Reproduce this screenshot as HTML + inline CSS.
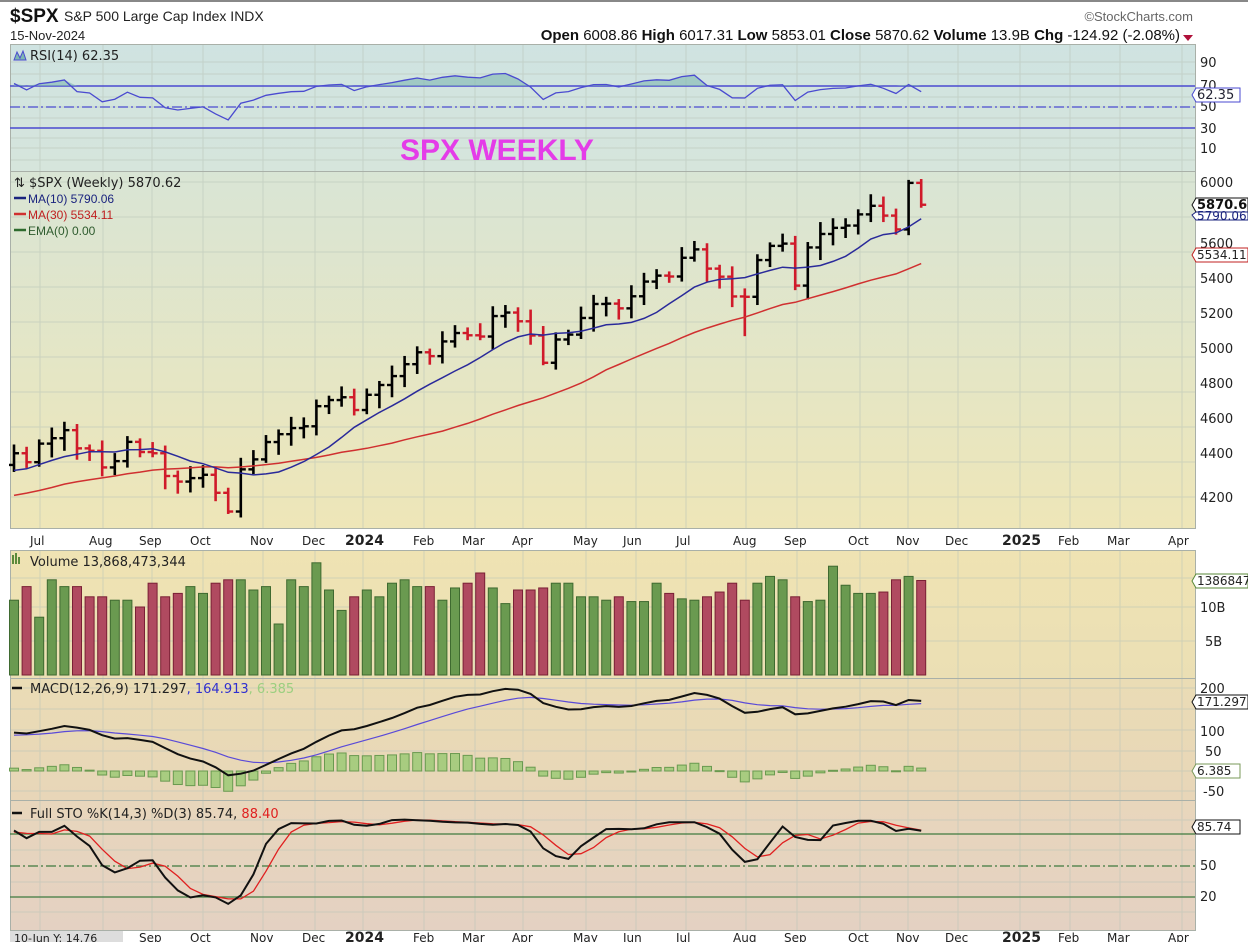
<!DOCTYPE html>
<html><head><meta charset="utf-8">
<style>
html,body{margin:0;padding:0;background:#fff;width:1248px;height:942px;overflow:hidden}
svg{display:block}
text{font-family:"DejaVu Sans","Liberation Sans",sans-serif}
.ax{font-family:"Liberation Sans",sans-serif;font-size:13px;fill:#222}
.mo{font-family:"DejaVu Sans",sans-serif;font-size:12px;fill:#222}
</style></head><body>
<svg id="s" width="1248" height="942" xmlns="http://www.w3.org/2000/svg">
<defs>
<linearGradient id="gR" x1="0" y1="0" x2="0" y2="1"><stop offset="0" stop-color="#cfe3e1"/><stop offset="1" stop-color="#d6e5dc"/></linearGradient>
<linearGradient id="gP" x1="0" y1="0" x2="0" y2="1"><stop offset="0" stop-color="#d9e5d5"/><stop offset="1" stop-color="#eee6b8"/></linearGradient>
<linearGradient id="gV" x1="0" y1="0" x2="0" y2="1"><stop offset="0" stop-color="#efe3b3"/><stop offset="1" stop-color="#ebdfb4"/></linearGradient>
<linearGradient id="gM" x1="0" y1="0" x2="0" y2="1"><stop offset="0" stop-color="#eadcb5"/><stop offset="1" stop-color="#e8d6b8"/></linearGradient>
<linearGradient id="gS" x1="0" y1="0" x2="0" y2="1"><stop offset="0" stop-color="#e8d6bc"/><stop offset="1" stop-color="#e4d1c2"/></linearGradient>
</defs>
<rect x="0" y="0" width="1248" height="942" fill="#fff"/>
<rect x="0" y="0" width="1248" height="2" fill="#888"/>
<text x="10" y="22" style="font-family:'Liberation Sans',sans-serif;font-weight:bold;font-size:19px" fill="#111">$SPX</text>
<text x="64" y="21" style="font-family:'Liberation Sans',sans-serif;font-size:14px" fill="#222">S&amp;P 500 Large Cap Index  INDX</text>
<text x="10" y="40" style="font-family:'Liberation Sans',sans-serif;font-size:13px" fill="#222">15-Nov-2024</text>
<text x="1193" y="21" text-anchor="end" style="font-family:'Liberation Sans',sans-serif;font-size:13px" fill="#666">©StockCharts.com</text>
<text x="1180" y="40" text-anchor="end" style="font-family:'Liberation Sans',sans-serif;font-size:15px" fill="#111"><tspan font-weight="bold">Open</tspan> 6008.86  <tspan font-weight="bold">High</tspan> 6017.31  <tspan font-weight="bold">Low</tspan> 5853.01  <tspan font-weight="bold">Close</tspan> 5870.62  <tspan font-weight="bold">Volume</tspan> 13.9B  <tspan font-weight="bold">Chg</tspan> -124.92 (-2.08%)</text>
<path d="M1183 35 L1193 35 L1188 41Z" fill="#b0103a"/>
<rect x="10" y="44" width="1185" height="127" fill="url(#gR)"/>
<rect x="10" y="171" width="1185" height="357" fill="url(#gP)"/>
<rect x="10" y="550" width="1185" height="128" fill="url(#gV)"/>
<rect x="10" y="678" width="1185" height="122" fill="url(#gM)"/>
<rect x="10" y="800" width="1185" height="130" fill="url(#gS)"/>
<rect x="10" y="930" width="113" height="12" fill="#ddd"/>
<g id="grid" stroke="#b8c4b8" stroke-width="1" opacity="0.55"></g>
<g stroke="#a9b0a8" stroke-width="1" fill="none">
<rect x="10.5" y="44.5" width="1185" height="484"/>
<rect x="10.5" y="550.5" width="1185" height="380"/>
<line x1="10" y1="171.5" x2="1195" y2="171.5"/>
<line x1="10" y1="678.5" x2="1195" y2="678.5"/>
<line x1="10" y1="800.5" x2="1195" y2="800.5"/>
</g>
<line x1="10" y1="86" x2="1195" y2="86" stroke="#4a4ad0" stroke-width="1.5"/>
<line x1="10" y1="107" x2="1195" y2="107" stroke="#4a4ad0" stroke-width="1.3" stroke-dasharray="10,3,2,3"/>
<line x1="10" y1="128" x2="1195" y2="128" stroke="#4a4ad0" stroke-width="1.5"/>
<line x1="10" y1="834" x2="1195" y2="834" stroke="#3f7a3f" stroke-width="1.2"/>
<line x1="10" y1="866" x2="1195" y2="866" stroke="#3f7a3f" stroke-width="1.2" stroke-dasharray="10,3,2,3"/>
<line x1="10" y1="897" x2="1195" y2="897" stroke="#3f7a3f" stroke-width="1.2"/>
<g id="series"></g>
<path d="M14 60 L17 52 L20 58 L23 51 L26 60Z" fill="#7fb8b0" stroke="#4a4ad0" stroke-width="1"/>
<text x="30" y="60" font-size="13" fill="#222">RSI(14) 62.35</text>
<text x="400" y="160" style="font-family:'Liberation Sans',sans-serif;font-weight:bold;font-size:30px" fill="#e43ce8">SPX WEEKLY</text>
<text x="14" y="187" font-size="13" fill="#222">⇅ $SPX (Weekly) 5870.62</text>
<line x1="14" y1="198" x2="26" y2="198" stroke="#1a237e" stroke-width="2.5"/><text x="28" y="203" font-size="12" fill="#1a237e" style="font-family:'Liberation Sans',sans-serif">MA(10) 5790.06</text>
<line x1="14" y1="214" x2="26" y2="214" stroke="#d03030" stroke-width="2.5"/><text x="28" y="219" font-size="12" fill="#c02020" style="font-family:'Liberation Sans',sans-serif">MA(30) 5534.11</text>
<line x1="14" y1="230" x2="26" y2="230" stroke="#2e6b2e" stroke-width="2.5"/><text x="28" y="235" font-size="12" fill="#2e5b2e" style="font-family:'Liberation Sans',sans-serif">EMA(0) 0.00</text>
<rect x="12" y="555" width="2" height="9" fill="#5a8a3a"/><rect x="15" y="553" width="2" height="11" fill="#5a8a3a"/><rect x="18" y="557" width="2" height="7" fill="#5a8a3a"/>
<text x="30" y="566" font-size="13" fill="#222">Volume 13,868,473,344</text>
<line x1="12" y1="688" x2="22" y2="688" stroke="#111" stroke-width="2.5"/>
<text x="30" y="693" font-size="13" fill="#222">MACD(12,26,9) 171.297<tspan fill="#3030d0">, 164.913</tspan><tspan fill="#9ccf80">, 6.385</tspan></text>
<line x1="12" y1="813" x2="22" y2="813" stroke="#111" stroke-width="2.5"/>
<text x="30" y="818" font-size="13" fill="#222">Full STO %K(14,3) %D(3) 85.74, <tspan fill="#e02020">88.40</tspan></text>
<g class="ax">
<text x="1200" y="67">90</text><text x="1200" y="90">70</text><text x="1200" y="111">50</text><text x="1200" y="133">30</text><text x="1200" y="153">10</text>
<text x="1200" y="187">6000</text><text x="1200" y="248">5600</text><text x="1200" y="283">5400</text><text x="1200" y="318">5200</text><text x="1200" y="353">5000</text><text x="1200" y="388">4800</text><text x="1200" y="423">4600</text><text x="1200" y="458">4400</text><text x="1200" y="502">4200</text>
<text x="1200" y="612">10B</text><text x="1205" y="646">5B</text>
<text x="1200" y="693">200</text><text x="1200" y="736">100</text><text x="1205" y="756">50</text><text x="1203" y="796">-50</text>
<text x="1200" y="870">50</text><text x="1200" y="901">20</text>
</g>
<g style="font-family:'Liberation Sans',sans-serif;font-size:12px">
<path d="M1192 95 L1196 88 L1240 88 L1240 102 L1196 102Z" fill="#fff" stroke="#4a4ad0"/><text x="1197" y="99" fill="#223" font-size="13">62.35</text>
<path d="M1192 205 L1196 198 L1248 198 L1248 212 L1196 212Z" fill="#fff" stroke="#111"/><text x="1197" y="209" fill="#111" font-weight="bold" font-size="13">5870.62</text>
<path d="M1192 215 L1196 212 L1248 212 L1248 220 L1196 220Z" fill="#fff" stroke="#1a237e"/><text x="1197" y="220" fill="#1a237e" font-size="12">5790.06</text>
<path d="M1192 255 L1196 248 L1248 248 L1248 262 L1196 262Z" fill="#fff" stroke="#c02020"/><text x="1197" y="259" fill="#222" font-size="12">5534.11</text>
<path d="M1192 581 L1196 574 L1248 574 L1248 588 L1196 588Z" fill="#fff" stroke="#5a8a3a"/><text x="1197" y="585" fill="#222" font-size="12">13868473</text>
<path d="M1192 702 L1196 695 L1248 695 L1248 709 L1196 709Z" fill="#fff" stroke="#111"/><text x="1197" y="706" fill="#222" font-size="12">171.297</text>
<path d="M1192 771 L1196 764 L1240 764 L1240 778 L1196 778Z" fill="#fff" stroke="#7a9a5a"/><text x="1197" y="775" fill="#222" font-size="12">6.385</text>
<path d="M1192 827 L1196 820 L1240 820 L1240 834 L1196 834Z" fill="#fff" stroke="#111"/><text x="1197" y="831" fill="#222" font-size="12">85.74</text>
</g>
<g class="mo">
<text x="30" y="545">Jul</text><text x="89" y="545">Aug</text><text x="139" y="545">Sep</text><text x="190" y="545">Oct</text><text x="250" y="545">Nov</text><text x="302" y="545">Dec</text><text x="345" y="545" font-weight="bold" font-size="14">2024</text><text x="413" y="545">Feb</text><text x="462" y="545">Mar</text><text x="512" y="545">Apr</text><text x="573" y="545">May</text><text x="623" y="545">Jun</text><text x="676" y="545">Jul</text><text x="733" y="545">Aug</text><text x="784" y="545">Sep</text><text x="848" y="545">Oct</text><text x="896" y="545">Nov</text><text x="945" y="545">Dec</text><text x="1002" y="545" font-weight="bold" font-size="14">2025</text><text x="1058" y="545">Feb</text><text x="1107" y="545">Mar</text><text x="1168" y="545">Apr</text>
</g>
<g class="mo">
<text x="14" y="942" font-size="11">10-Jun Y: 14.76</text>
<text x="139" y="942">Sep</text><text x="190" y="942">Oct</text><text x="250" y="942">Nov</text><text x="302" y="942">Dec</text><text x="345" y="942" font-weight="bold" font-size="14">2024</text><text x="413" y="942">Feb</text><text x="462" y="942">Mar</text><text x="512" y="942">Apr</text><text x="573" y="942">May</text><text x="623" y="942">Jun</text><text x="676" y="942">Jul</text><text x="733" y="942">Aug</text><text x="784" y="942">Sep</text><text x="848" y="942">Oct</text><text x="896" y="942">Nov</text><text x="945" y="942">Dec</text><text x="1002" y="942" font-weight="bold" font-size="14">2025</text><text x="1058" y="942">Feb</text><text x="1107" y="942">Mar</text><text x="1168" y="942">Apr</text>
</g>
</svg>
<script>
(function(){
var NS="http://www.w3.org/2000/svg",S=document.getElementById("series"),G=document.getElementById("grid");
function el(t,a,p){var e=document.createElementNS(NS,t);for(var k in a)e.setAttribute(k,a[k]);(p||S).appendChild(e);return e;}
var mx=[40,103,152,203,263,315,363,424,475,523,586,636,686,746,797,860,908,958,1020,1070,1120,1182];
mx.forEach(function(x){el("line",{x1:x,y1:44,x2:x,y2:528},G);el("line",{x1:x,y1:550,x2:x,y2:930},G);});
[62,74,86,97,107,118,128,138,148,160,182,217,252,287,322,357,392,427,462,497].forEach(function(y){el("line",{x1:10,y1:y,x2:1195,y2:y},G);});
[578,607,641,688,709,730,751,771,791,820,850,882,912].forEach(function(y){el("line",{x1:10,y1:y,x2:1195,y2:y},G);});
var C=[4450,4399,4505,4536,4582,4478,4464,4369,4405,4515,4457,4450,4320,4288,4308,4327,4224,4117,4358,4415,4514,4559,4594,4604,4719,4754,4770,4697,4784,4840,4891,4959,5027,5005,5089,5137,5124,5117,5234,5254,5204,5123,4967,5100,5128,5223,5303,5305,5278,5347,5431,5465,5460,5567,5615,5505,5459,5346,5344,5554,5635,5648,5408,5626,5703,5738,5751,5815,5864,5808,5729,5995,5870];
var pre=[];for(var i=0;i<40;i++)pre.push(3850+i*14+Math.sin(i*1.7)*40);
var A=pre.concat(C),P=pre.length,N=C.length;
function X(i){return 14+i*12.6;}
function Y(p){return 182+(6000-p)*0.175;}
var hi=[],lo=[];
for(var i=0;i<A.length;i++){var o=i?A[i-1]:A[0],c=A[i];var r1=20+((i*37)%50),r2=20+((i*53)%60);hi.push(Math.max(o,c)+r1);lo.push(Math.min(o,c)-r2);}
lo[P+58]=5119;lo[P+42]=4953;lo[P+71]=5696;hi[P+71]=6012;hi[P+72]=6017;lo[P+72]=5853;lo[P+17]=4103;
for(var j=0;j<N;j++){var i=P+j,o=A[i-1],c=A[i],x=X(j),col=c>=o?"#000":"#d01a2a";
 el("line",{x1:x,y1:Y(hi[i]),x2:x,y2:Y(lo[i]),stroke:col,"stroke-width":2.6});
 el("line",{x1:x-5,y1:Y(o),x2:x,y2:Y(o),stroke:col,"stroke-width":2.4});
 el("line",{x1:x,y1:Y(c),x2:x+5,y2:Y(c),stroke:col,"stroke-width":2.4});}
function sma(n,i){var s=0;for(var k=i-n+1;k<=i;k++)s+=A[k];return s/n;}
function poly(arr,col,w,fn){var d="";arr.forEach(function(v,j){if(v==null)return;d+=(d?"L":"M")+X(j).toFixed(1)+" "+fn(v).toFixed(1);});el("path",{d:d,fill:"none",stroke:col,"stroke-width":w});}
var m10=[],m30=[];for(var j=0;j<N;j++){m10.push(sma(10,P+j));m30.push(sma(30,P+j));}
poly(m30,"#d03030",1.5,Y);poly(m10,"#2a2a9a",1.5,Y);
var ag=0,al=0,rsi=[];for(var i=1;i<A.length;i++){var d=A[i]-A[i-1],g=d>0?d:0,l=d<0?-d:0;if(i<=14){ag+=g/14;al+=l/14;}else{ag=(ag*13+g)/14;al=(al*13+l)/14;}if(i>=P)rsi.push(100-100/(1+ag/al));}
function YR(v){return 62+(90-v)*1.075;}
var rd="M"+X(0)+" 86";rsi.forEach(function(v,j){rd+="L"+X(j)+" "+Math.min(86,YR(v));});rd+="L"+X(N-1)+" 86Z";el("path",{d:rd,fill:"#7fb8b0",opacity:0.6});
poly(rsi,"#4a4ad0",1.3,YR);
var V=[11,13,8.5,14,13,13,11.5,11.5,11,11,10,13.5,11.5,12,13,12,13.5,14,14,12.5,13,7.5,14,13,16.5,12.5,9.5,11.5,12.5,11.5,13.5,14,13,13,11,12.8,13.5,15,12.8,10.5,12.5,12.5,12.8,13.5,13.5,11.5,11.5,11,11.5,10.8,10.8,13.5,12,11.2,11,11.5,12.2,13.5,11,13.5,14.5,14,11.5,10.8,11,16,13.2,12,12,12.2,14,14.5,13.9];
for(var j=0;j<N;j++){var h=V[j]*6.8,up=A[P+j]>=A[P+j-1];el("rect",{x:X(j)-4.5,y:675-h,width:9,height:h,fill:up?"#6a9a50":"#b04a60",stroke:up?"#3f6a30":"#7a2035","stroke-width":1});}
function ema(n){var k=2/(n+1),e=A[0],o=[];for(var i=0;i<A.length;i++){e=A[i]*k+e*(1-k);o.push(e);}return o;}
var e12=ema(12),e26=ema(26),mc=[],sg=[],s=0;for(var i=0;i<A.length;i++){var m=e12[i]-e26[i];s=i?m*0.2+s*0.8:m;if(i>=P){mc.push(m);sg.push(s);}}
function YM(v){return 771-v*0.41;}
for(var j=0;j<N;j++){var hv=mc[j]-sg[j],y0=771,y1=771-hv*0.45;el("rect",{x:X(j)-4.5,y:Math.min(y0,y1),width:9,height:Math.max(1,Math.abs(y1-y0)),fill:"#a8cc80",stroke:"#6a9a50","stroke-width":1});}
poly(sg,"#5a4ad8",1.2,YM);poly(mc,"#111",2,YM);
var raw=[];for(var i=P-5;i<A.length;i++){var H=-1e9,L=1e9;for(var k=i-13;k<=i;k++){H=Math.max(H,hi[k]);L=Math.min(L,lo[k]);}raw.push((A[i]-L)/(H-L)*100);}
var K=[],D=[];for(var i=2;i<raw.length;i++)K.push((raw[i]+raw[i-1]+raw[i-2])/3);
var Kp=K.slice(K.length-N-2);for(var j=0;j<N;j++){D.push((Kp[j]+Kp[j+1]+Kp[j+2])/3);}
var Kn=Kp.slice(2);
function YS(v){return 866-(v-50)*1.03;}
poly(D,"#e02020",1.3,YS);poly(Kn,"#111",2,YS);
})();
</script>
</body></html>
